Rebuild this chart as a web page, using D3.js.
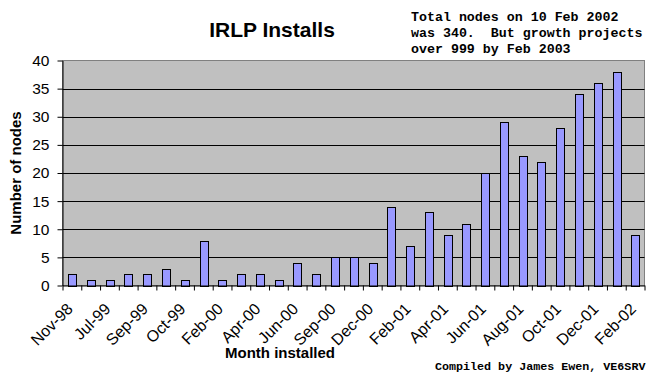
<!DOCTYPE html>
<html>
<head>
<meta charset="utf-8">
<script src="https://cdn.jsdelivr.net/npm/d3@7"></script>
<style>
  body { margin: 0; background: #fff; }
  svg { display: block; }
</style>
</head>
<body>
<svg id="chart" width="664" height="382"></svg>
<script>
// month of each bar (only every other one is labelled on the axis)
let months = ["Nov-98", "Mar-99", "Jul-99", "Aug-99", "Sep-99", "Sep-99", "Oct-99", "Dec-99",
    "Feb-00", "Mar-00", "Apr-00", "May-00", "Jun-00", "Aug-00", "Sep-00", "Nov-00", "Dec-00",
    "Jan-01", "Feb-01", "Mar-01", "Apr-01", "May-01", "Jun-01", "Jul-01", "Aug-01", "Sep-01",
    "Oct-01", "Nov-01", "Dec-01", "Jan-02", "Feb-02"]
let installs = [2, 1, 1, 2, 2, 3, 1, 8, 1, 2, 2, 1, 4, 2, 5, 5, 4, 14, 7, 13, 9, 11, 20, 29, 23, 22, 28, 34, 36, 38, 9]
let yTicks = [0, 5, 10, 15, 20, 25, 30, 35, 40]
let noteLines = ["Total nodes on 10 Feb 2002", "was 340.  But growth projects", "over 999 by Feb 2003"]

let svg = d3.select("#chart")
let plotL = 62.5, plotR = 644.5, plotT = 60.5, plotB = 285.5

let x = d3.scaleBand().domain(d3.range(months.length)).range([plotL, plotR]).paddingInner(0.6).paddingOuter(0.3)
let xEdge = d3.scaleLinear().domain([0, months.length]).range([plotL, plotR])
let y = d3.scaleLinear().domain([0, 40]).range([plotB, plotT])

// plot area
svg.append("rect")
    .attr("x", plotL).attr("y", plotT)
    .attr("width", plotR - plotL).attr("height", plotB - plotT)
    .attr("fill", "#c0c0c0")
    .attr("stroke", "#808080")

// gridlines
svg.append("g").selectAll("line")
    .data(yTicks.filter(t => t > 0 && t < 40))
    .enter().append("line")
    .attr("x1", plotL).attr("x2", plotR)
    .attr("y1", d => Math.round(y(d)) + 0.5).attr("y2", d => Math.round(y(d)) + 0.5)
    .attr("stroke", "#000")

// bars
svg.append("g").selectAll("rect")
    .data(installs)
    .enter().append("rect")
    .attr("x", (d, i) => Math.round(x(i)) + 0.5)
    .attr("y", d => Math.round(y(d)) + 0.5)
    .attr("width", Math.round(x.bandwidth()))
    .attr("height", d => Math.round(y(0)) - Math.round(y(d)))
    .attr("fill", "#9999ff")
    .attr("stroke", "#000")

// y axis
let yAxis = svg.append("g")
    .attr("transform", `translate(${plotL},0)`)
    .call(d3.axisLeft(y).tickValues(yTicks).tickSize(5).tickPadding(8).tickSizeOuter(0))
yAxis.select(".domain").attr("stroke", "#000")
yAxis.selectAll("text")
    .attr("font-family", "Liberation Sans, Arial, sans-serif")
    .attr("font-size", 15.5)
    .attr("fill", "#000")

// x axis - ticks between categories
let xAxis = svg.append("g")
    .attr("transform", `translate(0,${plotB})`)
    .call(d3.axisBottom(xEdge).tickValues(d3.range(months.length + 1)).tickSize(5).tickFormat("").tickSizeOuter(0))
xAxis.select(".domain").attr("stroke", "#000")

// every other month label, rotated
svg.append("g").selectAll("text")
    .data(months.map((m, i) => ({ m: m, i: i })).filter(d => d.i % 2 == 0))
    .enter().append("text")
    .attr("transform", d => `translate(${x(d.i) + x.bandwidth() / 2 + 2},310) rotate(-45)`)
    .attr("text-anchor", "end")
    .attr("font-family", "Liberation Sans, Arial, sans-serif")
    .attr("font-size", 16)
    .text(d => d.m)

// titles
svg.append("text")
    .attr("x", 272).attr("y", 37)
    .attr("text-anchor", "middle")
    .attr("font-family", "Liberation Sans, Arial, sans-serif")
    .attr("font-weight", "bold")
    .attr("font-size", 21)
    .text("IRLP Installs")

svg.append("text")
    .attr("transform", "translate(21,173) rotate(-90)")
    .attr("text-anchor", "middle")
    .attr("font-family", "Liberation Sans, Arial, sans-serif")
    .attr("font-weight", "bold")
    .attr("font-size", 15)
    .text("Number of nodes")

svg.append("text")
    .attr("x", 280).attr("y", 358)
    .attr("text-anchor", "middle")
    .attr("font-family", "Liberation Sans, Arial, sans-serif")
    .attr("font-weight", "bold")
    .attr("font-size", 15)
    .text("Month installed")

// notes
svg.append("g").selectAll("text")
    .data(noteLines)
    .enter().append("text")
    .attr("x", 411)
    .attr("y", (d, i) => 21 + i * 16)
    .attr("font-family", "Liberation Mono, Courier New, monospace")
    .attr("font-weight", "bold")
    .attr("font-size", 13.3)
    .style("white-space", "pre")
    .text(d => d)

svg.append("text")
    .attr("x", 435).attr("y", 370)
    .attr("font-family", "Liberation Mono, Courier New, monospace")
    .attr("font-weight", "bold")
    .attr("font-size", 11.7)
    .text("Compiled by James Ewen, VE6SRV")
</script>
</body>
</html>
